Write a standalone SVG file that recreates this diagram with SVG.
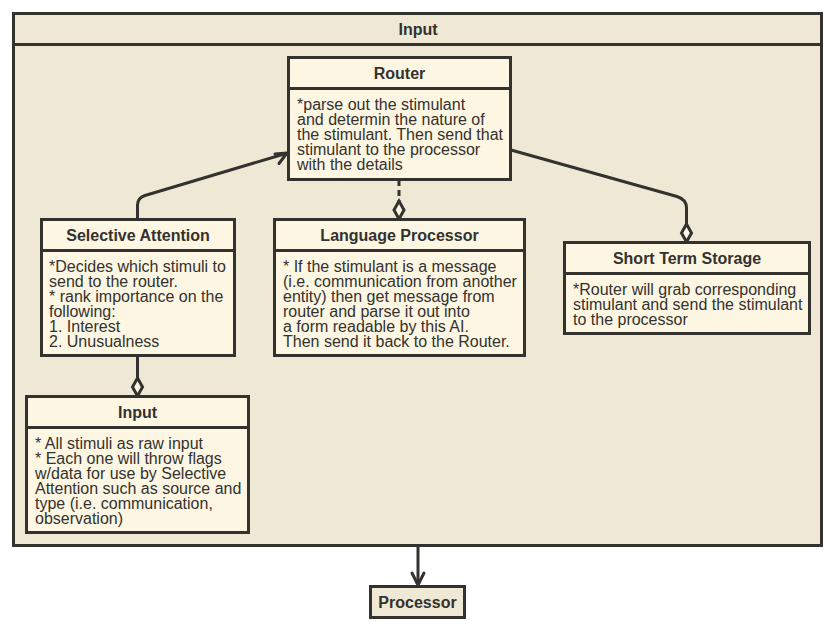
<svg xmlns="http://www.w3.org/2000/svg" width="834" height="630" viewBox="0 0 834 630">
<defs>
<style>
.frame{fill:#eee8d5;stroke:#33322e;stroke-width:3}
.node{fill:#fdf6e3;stroke:#33322e;stroke-width:3}
.div{stroke:#33322e;stroke-width:3}
.t{font-family:"Liberation Sans",Arial,sans-serif;font-size:16px;font-weight:bold;fill:#33322e;text-anchor:middle}
.b{font-family:"Liberation Sans",Arial,sans-serif;font-size:16px;fill:#33322e}
.edge{fill:none;stroke:#33322e;stroke-width:3;stroke-linejoin:round}
.dia{fill:#fdf6e3;stroke:#33322e;stroke-width:3;stroke-linejoin:miter}
</style>
</defs>
<rect width="834" height="630" fill="#ffffff"/>
<g id="input-frame">
<rect class="frame" x="13.5" y="13.5" width="808" height="532"/>
<line class="div" x1="13.5" y1="44.5" x2="821.5" y2="44.5"/>
<text class="t" x="418" y="35">Input</text>
</g>
<g id="connectors">
<path class="edge" d="M137.5,219 L137.5,205 Q137.5,198 145,195.5 L286,153.5"/>
<path class="edge" d="M275,154 L287,153 L279,163.5" stroke-linecap="round"/>
<path class="edge" d="M399,180 L399,201" stroke-dasharray="6 4"/>
<path class="dia" d="M399,201 L404,210 L399,219 L394,210 Z"/>
<path class="edge" d="M511,150 L677,196.5 Q686.5,199.5 686.5,208 L686.5,224"/>
<path class="dia" d="M686.5,224 L691.5,233 L686.5,242 L681.5,233 Z"/>
<path class="edge" d="M137.5,356 L137.5,378"/>
<path class="dia" d="M137.5,378 L142.5,387 L137.5,396 L132.5,387 Z"/>
<path class="edge" d="M418,546 L418,584"/>
<path class="edge" d="M412,573 L418,585 L424,573" stroke-linecap="round"/>
</g>
<g id="router">
<rect class="node" x="288.5" y="57.5" width="222" height="122"/>
<line class="div" x1="288.5" y1="88.5" x2="510.5" y2="88.5"/>
<text class="t" x="399.5" y="79">Router</text>
<text class="b" x="297" y="110">*parse out the stimulant</text>
<text class="b" x="297" y="125">and determin the nature of</text>
<text class="b" x="297" y="140">the stimulant. Then send that</text>
<text class="b" x="297" y="155">stimulant to the processor</text>
<text class="b" x="297" y="170">with the details</text>
</g>
<g id="selective-attention">
<rect class="node" x="41.5" y="219.5" width="193" height="136"/>
<line class="div" x1="41.5" y1="250.5" x2="234.5" y2="250.5"/>
<text class="t" x="138" y="241">Selective Attention</text>
<text class="b" x="49" y="272">*Decides which stimuli to</text>
<text class="b" x="49" y="287">send to the router.</text>
<text class="b" x="49" y="302">* rank importance on the</text>
<text class="b" x="49" y="317">following:</text>
<text class="b" x="49" y="332">1. Interest</text>
<text class="b" x="49" y="347">2. Unusualness</text>
</g>
<g id="language-processor">
<rect class="node" x="274.5" y="219.5" width="250" height="136"/>
<line class="div" x1="274.5" y1="250.5" x2="524.5" y2="250.5"/>
<text class="t" x="399.5" y="241">Language Processor</text>
<text class="b" x="283" y="272">* If the stimulant is a message</text>
<text class="b" x="283" y="287">(i.e. communication from another</text>
<text class="b" x="283" y="302">entity) then get message from</text>
<text class="b" x="283" y="317">router and parse it out into</text>
<text class="b" x="283" y="332">a form readable by this AI.</text>
<text class="b" x="283" y="347">Then send it back to the Router.</text>
</g>
<g id="short-term-storage">
<rect class="node" x="564.5" y="242.5" width="245" height="91"/>
<line class="div" x1="564.5" y1="273.5" x2="809.5" y2="273.5"/>
<text class="t" x="687" y="264">Short Term Storage</text>
<text class="b" x="573" y="295">*Router will grab corresponding</text>
<text class="b" x="573" y="310">stimulant and send the stimulant</text>
<text class="b" x="573" y="325">to the processor</text>
</g>
<g id="input">
<rect class="node" x="26.5" y="396.5" width="222" height="136"/>
<line class="div" x1="26.5" y1="427.5" x2="248.5" y2="427.5"/>
<text class="t" x="137.5" y="418">Input</text>
<text class="b" x="35" y="449">* All stimuli as raw input</text>
<text class="b" x="35" y="464">* Each one will throw flags</text>
<text class="b" x="35" y="479">w/data for use by Selective</text>
<text class="b" x="35" y="494">Attention such as source and</text>
<text class="b" x="35" y="509">type (i.e. communication,</text>
<text class="b" x="35" y="524">observation)</text>
</g>
<g id="processor">
<rect class="frame" x="370.5" y="586.5" width="94" height="31"/>
<text class="t" x="417.5" y="608">Processor</text>
</g>
</svg>
